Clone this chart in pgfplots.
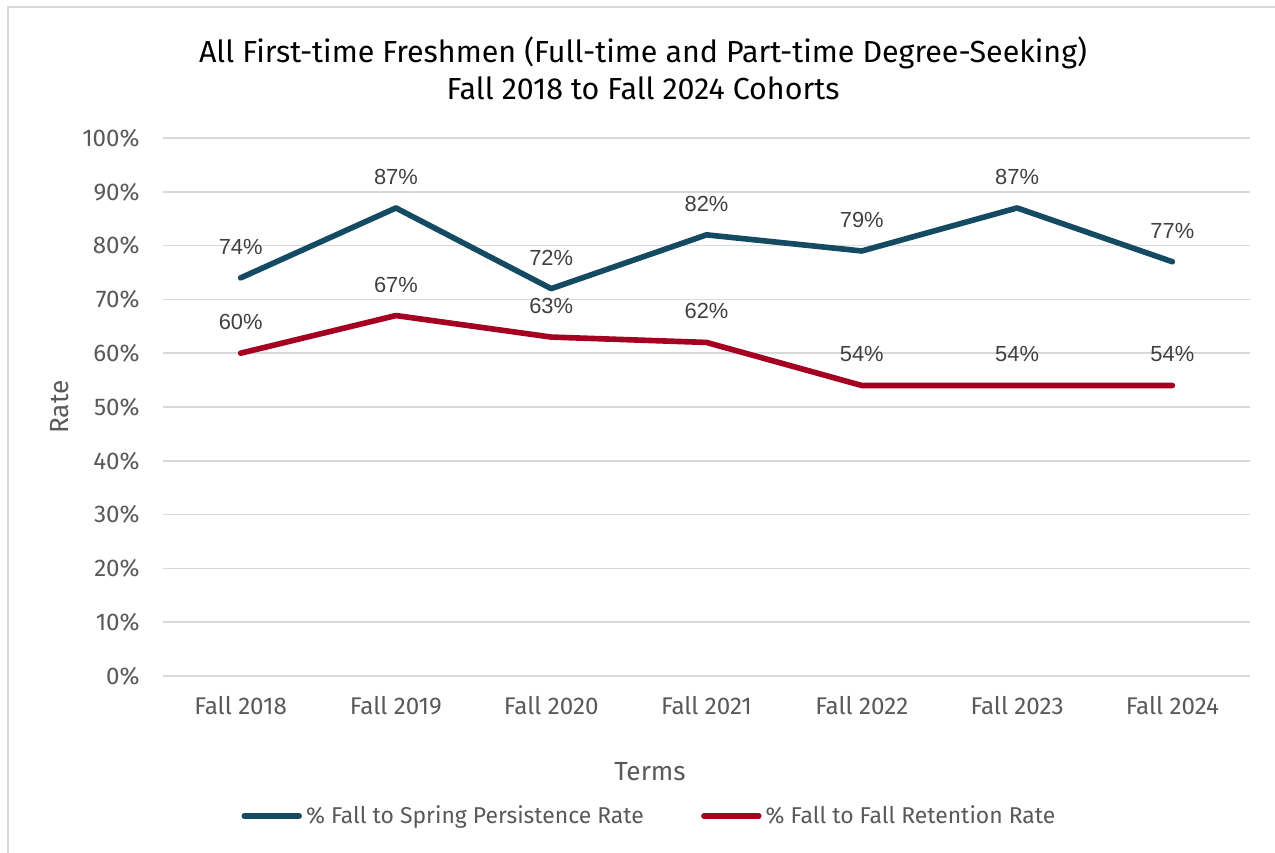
\documentclass[border=0pt]{standalone}
\usepackage{pgfplots}
\pgfplotsset{compat=1.18}
\usepackage{fontspec}
\setmainfont{Fira Sans}
\newfontfamily\labfont{Liberation Sans}
\definecolor{cblue}{RGB}{20,75,99}
\definecolor{cred}{RGB}{165,0,33}
\definecolor{gridc}{RGB}{217,217,217}
\definecolor{txt}{RGB}{89,89,89}
\definecolor{lab}{RGB}{64,64,64}
\begin{document}
\begin{tikzpicture}
\path[use as bounding box] (0,0) rectangle (612pt,-408.96pt);
\draw[gridc, line width=0.7pt] (3.84pt,-410pt) -- (3.84pt,-3.36pt) -- (613pt,-3.36pt);
\node[align=center, font=\fontsize{14.6}{17.8}\selectfont, text=black] at (308.64pt,-32.64pt)
  {All First-time Freshmen (Full-time and Part-time Degree-Seeking)\\Fall 2018 to Fall 2024 Cohorts};
\begin{axis}[
  at={(78.24pt,-324.48pt)}, anchor=south west,
  scale only axis, width=521.76pt, height=258.24pt,
  xmin=-0.5, xmax=6.5, ymin=0, ymax=100,
  clip=false,
  axis line style={draw=none},
  major tick length=0pt,
  ymajorgrids, grid style={gridc, line width=0.72pt},
  xtick={0,1,2,3,4,5,6},
  xticklabels={Fall 2018,Fall 2019,Fall 2020,Fall 2021,Fall 2022,Fall 2023,Fall 2024},
  ytick={0,10,...,100},
  yticklabel={\pgfmathprintnumber{\tick}\%},
  /pgf/number format/assume math mode=true,
  tick label style={font=\fontsize{11.6}{13}\selectfont, text=txt, inner sep=0pt},
  yticklabel style={anchor=east, xshift=-11pt},
  xticklabel style={anchor=center, yshift=-14.4pt},
  xlabel={Terms}, ylabel={Rate},
  label style={font=\fontsize{12.6}{14}\selectfont, text=txt},
  xlabel style={at={(axis description cs:0.448,-0.178)}, anchor=center},
  ylabel style={at={(axis description cs:-0.0948,0.5)}, anchor=center},
  nodes near coords={\pgfmathprintnumber{\pgfplotspointmeta}\%},
  every node near coord/.append style={font=\labfont\fontsize{10.5}{12}\selectfont, text=lab, anchor=center, yshift=14.9pt},
  legend columns=2,
  legend cell align=left,
  legend style={at={(axis description cs:0.4485,-0.2602)}, anchor=center, draw=none, fill=none,
    font=\fontsize{11}{13}\selectfont, text=txt, inner sep=0pt,
    /tikz/every even column/.append style={column sep=25.5pt}},
  legend image code/.code={\draw[#1, line width=2.6pt, line cap=round] (0pt,0pt) -- (26.4pt,0pt);},
]
\addplot[cblue, line width=2.7pt, line join=round, line cap=round, mark=none]
  coordinates {(0,74) (1,87) (2,72) (3,82) (4,79) (5,87) (6,77)};
\addlegendentry{\% Fall to Spring Persistence Rate}
\addplot[cred, line width=2.7pt, line join=round, line cap=round, mark=none]
  coordinates {(0,60) (1,67) (2,63) (3,62) (4,54) (5,54) (6,54)};
\addlegendentry{\% Fall to Fall Retention Rate}
\end{axis}
\end{tikzpicture}
\end{document}
